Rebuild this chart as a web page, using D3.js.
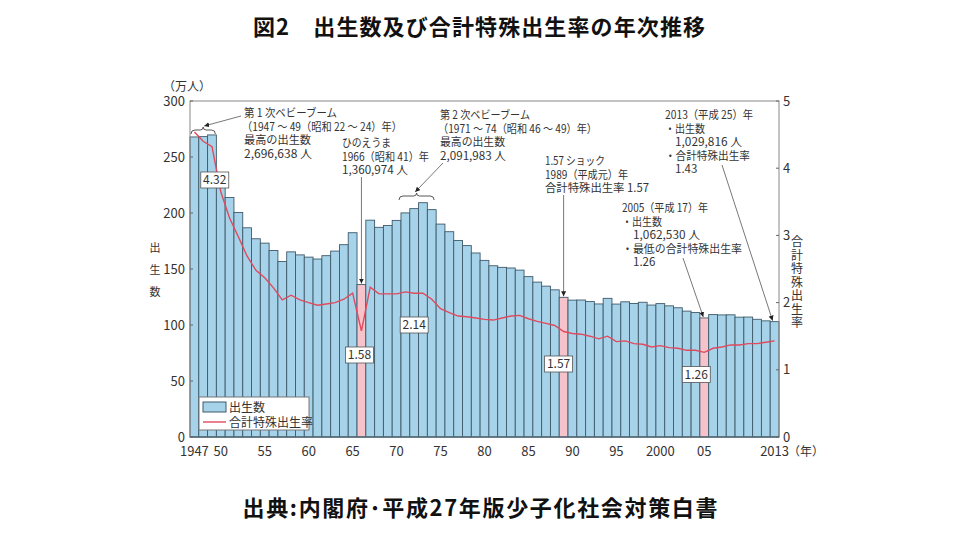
<!DOCTYPE html>
<html>
<head>
<meta charset="utf-8">
<script src="https://cdn.jsdelivr.net/npm/d3@7"></script>
<style>
body { margin: 0; background: #fff; }
text { font-family: "Noto Sans CJK JP", "Noto Sans", sans-serif; fill: #333; }
</style>
</head>
<body>
<svg id="chart" width="959" height="555"></svg>
<script>
// years shown on the category axis
var years = d3.range(1947, 2014);

// births, in 10,000 persons (万人)
var births = [267.9, 268.2, 269.7, 233.8, 213.8, 200.5, 186.8, 177.0, 173.1, 166.5,
    156.7, 165.3, 162.6, 160.6, 158.9, 161.9, 166.0, 171.7, 182.4, 136.1,
    193.6, 187.2, 188.9, 193.4, 200.1, 203.9, 209.2, 203.0, 190.1, 183.3,
    175.5, 170.9, 164.3, 157.7, 152.9, 151.5, 150.9, 149.0, 143.2, 138.3,
    134.7, 131.4, 124.7, 122.2, 122.3, 120.9, 118.8, 123.8, 118.7, 120.7,
    119.2, 120.3, 117.8, 119.1, 117.1, 115.4, 112.4, 111.1, 106.3, 109.3,
    109.0, 109.1, 107.0, 107.1, 105.1, 103.7, 103.0];

// total fertility rate (合計特殊出生率)
var tfr = [4.54, 4.40, 4.32, 3.65, 3.26, 2.98, 2.69, 2.48, 2.37, 2.22,
    2.04, 2.11, 2.04, 2.00, 1.96, 1.98, 2.00, 2.05, 2.14, 1.58,
    2.23, 2.13, 2.13, 2.13, 2.16, 2.14, 2.14, 2.05, 1.91, 1.85,
    1.80, 1.79, 1.77, 1.75, 1.74, 1.77, 1.80, 1.81, 1.76, 1.72,
    1.69, 1.66, 1.57, 1.54, 1.53, 1.50, 1.46, 1.50, 1.42, 1.43,
    1.39, 1.38, 1.34, 1.36, 1.33, 1.32, 1.29, 1.29, 1.26, 1.32,
    1.34, 1.37, 1.37, 1.39, 1.39, 1.41, 1.43];

var highlightYears = [1966, 1989, 2005];

var xTickYears = [1947, 1950, 1955, 1960, 1965, 1970, 1975, 1980, 1985, 1990, 1995, 2000, 2005, 2013];
var xTickLabels = ["1947", "50", "55", "60", "65", "70", "75", "80", "85", "90", "95", "2000", "05", "2013"];
var leftTicks = [0, 50, 100, 150, 200, 250, 300];
var rightTicks = [0, 1, 2, 3, 4, 5];

var rateLabelYears = [1950, 1966, 1972, 1989, 2005];
var rateLabelTexts = ["4.32", "1.58", "2.14", "1.57", "1.26"];

var svg = d3.select("#chart");

var plotLeft = 190, plotRight = 779, plotTop = 101, plotBottom = 437;

var x = d3.scaleBand().domain(years).range([plotLeft, plotRight]).paddingInner(0).paddingOuter(0);
var yBirths = d3.scaleLinear().domain([0, 300]).range([plotBottom, plotTop]);
var yRate = d3.scaleLinear().domain([0, 5]).range([plotBottom, plotTop]);

// title + source
svg.append("text").attr("x", 479).attr("y", 35).attr("text-anchor", "middle")
    .style("font-size", "22px").style("font-weight", "bold").style("fill", "#111")
    .attr("textLength", 452)
    .text("図2　出生数及び合計特殊出生率の年次推移");

svg.append("text").attr("x", 480).attr("y", 516).attr("text-anchor", "middle")
    .style("font-size", "22px").style("font-weight", "bold").style("fill", "#111")
    .attr("textLength", 475)
    .text("出典:内閣府･平成27年版少子化社会対策白書");

var defs = svg.append("defs");
defs.append("marker").attr("id", "arrow")
    .attr("viewBox", "0 0 10 10").attr("refX", 10).attr("refY", 5)
    .attr("markerWidth", 5).attr("markerHeight", 5)
    .attr("markerUnits", "userSpaceOnUse")
    .attr("orient", "auto")
    .append("path").attr("d", "M0,0 L10,5 L0,10 z").attr("fill", "#222");

// bars
svg.append("g").attr("id", "bars")
    .selectAll("rect")
    .data(years)
    .enter()
    .append("rect")
    .attr("x", function(d) { return x(d); })
    .attr("y", function(d, i) { return yBirths(births[i]); })
    .attr("width", x.bandwidth())
    .attr("height", function(d, i) { return plotBottom - yBirths(births[i]); })
    .attr("fill", function(d) {
        return highlightYears.indexOf(d) >= 0 ? "#f7c3cb" : "#a6d3ea";
    })
    .attr("stroke", "#3f5a6a")
    .attr("stroke-width", 0.9);

// plot frame
svg.append("rect").attr("x", plotLeft).attr("y", plotTop)
    .attr("width", plotRight - plotLeft).attr("height", plotBottom - plotTop)
    .attr("fill", "none").attr("stroke", "#888").attr("stroke-width", 1);
svg.append("line").attr("x1", plotLeft).attr("x2", plotRight).attr("y1", plotBottom).attr("y2", plotBottom)
    .attr("stroke", "#3f5a6a").attr("stroke-width", 1.2);

// fertility line
var line = d3.line()
    .x(function(d, i) { return x(years[i]) + x.bandwidth() / 2; })
    .y(function(d) { return yRate(d); });
svg.append("path").datum(tfr).attr("d", line)
    .attr("fill", "none").attr("stroke", "#e04a5c").attr("stroke-width", 1.4);

// left axis
var gl = svg.append("g");
gl.selectAll("text").data(leftTicks).enter().append("text")
    .attr("x", 185).attr("y", function(d) { return yBirths(d) + 4.5; })
    .attr("text-anchor", "end").style("font-size", "13px")
    .text(function(d) { return d; });
gl.selectAll("line").data(leftTicks).enter().append("line")
    .attr("x1", plotLeft).attr("x2", plotLeft + 3)
    .attr("y1", function(d) { return yBirths(d); }).attr("y2", function(d) { return yBirths(d); })
    .attr("stroke", "#666");
svg.append("text").attr("x", 163).attr("y", 91).style("font-size", "12px").text("（万人）");
["出", "生", "数"].forEach(function(c, i) {
    svg.append("text").attr("x", 155).attr("y", 252 + i * 22).attr("text-anchor", "middle")
        .style("font-size", "11px").text(c);
});

// right axis
var gr = svg.append("g");
gr.selectAll("text").data(rightTicks).enter().append("text")
    .attr("x", 783).attr("y", function(d) { return yRate(d) + 4.5; })
    .style("font-size", "13px")
    .text(function(d) { return d; });
gr.selectAll("line").data(rightTicks).enter().append("line")
    .attr("x1", plotRight - 3).attr("x2", plotRight)
    .attr("y1", function(d) { return yRate(d); }).attr("y2", function(d) { return yRate(d); })
    .attr("stroke", "#666");
"合計特殊出生率".split("").forEach(function(c, i) {
    svg.append("text").attr("x", 797).attr("y", 246 + i * 13.5).attr("text-anchor", "middle")
        .style("font-size", "12px").text(c);
});

// x labels
svg.append("g").selectAll("text").data(xTickYears).enter().append("text")
    .attr("x", function(d) { return x(d) + x.bandwidth() / 2; })
    .attr("y", 456).attr("text-anchor", "middle").style("font-size", "13px")
    .text(function(d, i) { return xTickLabels[i]; });
svg.append("text").attr("x", 788).attr("y", 456).style("font-size", "12px").text("（年）");

// legend
var lg = svg.append("g");
lg.append("rect").attr("x", 199).attr("y", 397).attr("width", 110).attr("height", 33)
    .attr("fill", "#fff").attr("stroke", "#777");
lg.append("rect").attr("x", 203).attr("y", 402).attr("width", 23).attr("height", 10)
    .attr("fill", "#a6d3ea").attr("stroke", "#3f5a6a");
lg.append("text").attr("x", 229).attr("y", 412).style("font-size", "12px").text("出生数");
lg.append("line").attr("x1", 203).attr("x2", 226).attr("y1", 422).attr("y2", 422)
    .attr("stroke", "#e04a5c").attr("stroke-width", 1.4);
lg.append("text").attr("x", 229).attr("y", 426.5).style("font-size", "12px").text("合計特殊出生率");

// rate value boxes
var boxOffsets = [[-6, 180], [-2, 355], [0, 325], [-5, 364], [-8, 374.5]];
var gb = svg.append("g");
rateLabelYears.forEach(function(yr, i) {
    var cx = x(yr) + x.bandwidth() / 2 + boxOffsets[i][0];
    var cy = boxOffsets[i][1];
    gb.append("rect").attr("x", cx - 14).attr("y", cy - 8).attr("width", 28).attr("height", 16)
        .attr("fill", "#fff").attr("stroke", "#555").attr("stroke-width", 0.8);
    gb.append("text").attr("x", cx).attr("y", cy + 4.3).attr("text-anchor", "middle")
        .style("font-size", "12px").text(rateLabelTexts[i]);
});

// braces over boom years
function brace(x1, x2, yb) {
    var cx = (x1 + x2) / 2;
    return "M" + x1 + "," + (yb + 4) + " Q" + x1 + "," + yb + " " + (x1 + 4) + "," + yb +
        " L" + (cx - 3) + "," + yb + " Q" + cx + "," + yb + " " + cx + "," + (yb - 3) +
        " Q" + cx + "," + yb + " " + (cx + 3) + "," + yb +
        " L" + (x2 - 4) + "," + yb + " Q" + x2 + "," + yb + " " + x2 + "," + (yb + 4);
}
svg.append("path").attr("d", brace(x(1947) + 1, x(1949) + x.bandwidth() - 1, 130))
    .attr("fill", "none").attr("stroke", "#444").attr("stroke-width", 0.9);
svg.append("path").attr("d", brace(x(1971) - 2, x(1974) + x.bandwidth() - 2, 196))
    .attr("fill", "none").attr("stroke", "#444").attr("stroke-width", 0.9);

// callout lines
function callout(x1, y1, x2, y2) {
    svg.append("line").attr("x1", x1).attr("y1", y1).attr("x2", x2).attr("y2", y2)
        .attr("stroke", "#555").attr("stroke-width", 0.8).attr("marker-end", "url(#arrow)");
}
function barTop(yr) { return yBirths(births[years.indexOf(yr)]); }
function barMid(yr) { return x(yr) + x.bandwidth() / 2; }
callout(241, 116, barMid(1948) + 1, 126);
callout(barMid(1966), 177, barMid(1966), barTop(1966) - 1);
callout(443, 163, barMid(1972) + 1, 192);
callout(barMid(1989), 195, barMid(1989), barTop(1989) - 1);
callout(683, 258, barMid(2005) - 1, barTop(2005) - 1);
callout(722, 165, barMid(2013) - 2, barTop(2013) - 1);

// annotation texts (w: fitted line width, 0 = natural)
var notes = [
    { x: 244, y: 117, lines: ["第 1 次ベビーブーム", "（1947 ～ 49（昭和 22 ～ 24）年）", "最高の出生数", "2,696,638 人"],
      dx: [0, -2, 0, 0], w: [93, 160, 67, 68] },
    { x: 342, y: 147, lines: ["ひのえうま", "1966（昭和 41）年", "1,360,974 人"],
      dx: [0, 0, 0], w: [49, 87, 66] },
    { x: 440, y: 119, lines: ["第 2 次ベビーブーム", "（1971 ～ 74（昭和 46 ～ 49）年）", "最高の出生数", "2,091,983 人"],
      dx: [0, -2, 0, 0], w: [90, 159, 65, 66] },
    { x: 545, y: 165, lines: ["1.57 ショック", "1989（平成元）年", "合計特殊出生率 1.57"],
      dx: [0, 0, 0], w: [60, 83, 104] },
    { x: 622, y: 212, lines: ["2005（平成 17）年", "・出生数", "1,062,530 人", "・最低の合計特殊出生率", "1.26"],
      dx: [0, 0, 11, 0, 11], w: [86, 40, 67, 120, 0] },
    { x: 665, y: 119, lines: ["2013（平成 25）年", "・出生数", "1,029,816 人", "・合計特殊出生率", "1.43"],
      dx: [0, 0, 10, 0, 10], w: [88, 40, 67, 85, 0] }
];
var gn = svg.append("g");
notes.forEach(function(n) {
    n.lines.forEach(function(t, i) {
        var tx = gn.append("text").attr("x", n.x + n.dx[i]).attr("y", n.y + i * 13.5)
            .style("font-size", "11.5px").text(t);
        if (n.w[i]) tx.attr("textLength", n.w[i]).attr("lengthAdjust", "spacingAndGlyphs");
    });
});
</script>
</body>
</html>
